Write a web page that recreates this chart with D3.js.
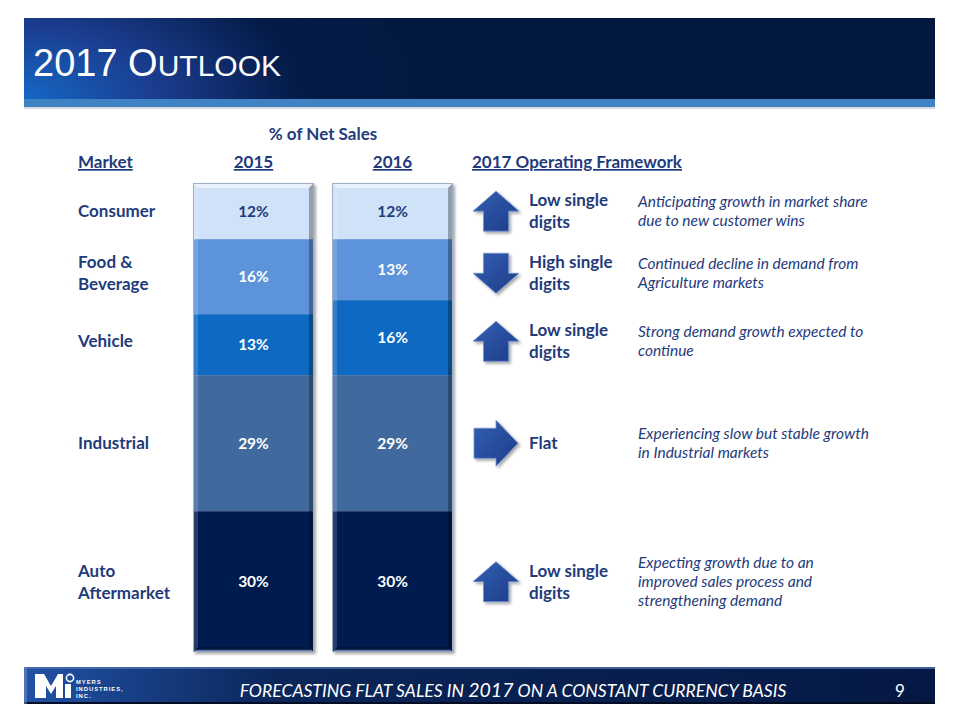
<!DOCTYPE html>
<html>
<head>
<meta charset="utf-8">
<script src="https://cdn.jsdelivr.net/npm/d3@7/dist/d3.min.js"></script>
<style>
  html, body { margin: 0; padding: 0; background: #ffffff; }
  svg { display: block; }
</style>
</head>
<body>
<script>
// ---------------- DATA ----------------
const markets = ["Consumer", "Food &\nBeverage", "Vehicle", "Industrial", "Auto\nAftermarket"];
const years = ["2015", "2016"];
const share2015 = [12, 16, 13, 29, 30];
const share2016 = [12, 13, 16, 29, 30];
const outlookDirection = ["up", "down", "up", "right", "up"];
const outlookLabel = ["Low single\ndigits", "High single\ndigits", "Low single\ndigits", "Flat", "Low single\ndigits"];
const outlookNote = [
  "Anticipating growth in market share\ndue to new customer wins",
  "Continued decline in demand from\nAgriculture markets",
  "Strong demand growth expected to\ncontinue",
  "Experiencing slow but stable growth\nin Industrial markets",
  "Expecting growth due to an\nimproved sales process and\nstrengthening demand"
];
const titleText = ["2017 O", "UTLOOK"];
const footerText = ["FORECASTING FLAT SALES IN ", "2017", " ON A CONSTANT CURRENCY BASIS"];
const logoText = ["MYERS", "INDUSTRIES,", "INC."];
const pageNumber = "9";

// ---------------- SETUP ----------------
const W = 960, H = 720;
const navyText = "#1f3b7b";
const segColors = ["#cfe2f8", "#5b93da", "#0a69c1", "#406a9d", "#061b50"];
const segText = [navyText, "#ffffff", "#ffffff", "#ffffff", "#ffffff"];
const font = "Lato, 'Open Sans', sans-serif";

const svg = d3.select("body").append("svg").attr("width", W).attr("height", H);
const defs = svg.append("defs");

// header gradient
const hg = defs.append("radialGradient").attr("id", "hdrGrad")
  .attr("gradientUnits", "userSpaceOnUse").attr("cx", 20).attr("cy", 100).attr("r", 450)
  .attr("gradientTransform", "translate(20,100) scale(1,0.55) translate(-20,-100)");
hg.append("stop").attr("offset", "0").attr("stop-color", "#1469c7");
hg.append("stop").attr("offset", "0.3").attr("stop-color", "#1b3d8f");
hg.append("stop").attr("offset", "0.62").attr("stop-color", "#041b47");
hg.append("stop").attr("offset", "1").attr("stop-color", "#03183f");

const fg = defs.append("linearGradient").attr("id", "ftrGrad").attr("x1", 0).attr("x2", 1).attr("y1", 0).attr("y2", 0);
fg.append("stop").attr("offset", "0").attr("stop-color", "#2152a6");
fg.append("stop").attr("offset", "0.28").attr("stop-color", "#0b2659");
fg.append("stop").attr("offset", "1").attr("stop-color", "#051843");

const ag = defs.append("linearGradient").attr("id", "arrGrad").attr("x1", 0).attr("x2", 1).attr("y1", 0).attr("y2", 1);
ag.append("stop").attr("offset", "0").attr("stop-color", "#3460b3");
ag.append("stop").attr("offset", "1").attr("stop-color", "#1d3b88");

const sh = defs.append("filter").attr("id", "shadow").attr("x", "-20%").attr("y", "-20%").attr("width", "150%").attr("height", "150%");
sh.append("feDropShadow").attr("dx", 2).attr("dy", 2).attr("stdDeviation", 1.5).attr("flood-color", "#000").attr("flood-opacity", 0.35);

// ---------------- HEADER ----------------
svg.append("rect").attr("x", 24).attr("y", 18).attr("width", 911).attr("height", 81).attr("fill", "url(#hdrGrad)");
svg.append("rect").attr("x", 24).attr("y", 99).attr("width", 911).attr("height", 8).attr("fill", "#3f83c4");
svg.append("rect").attr("x", 24).attr("y", 107).attr("width", 911).attr("height", 2).attr("fill", "#d5dbe3");

const title = svg.append("text").attr("x", 33).attr("y", 76)
  .attr("fill", "#ffffff").attr("font-family", "'Liberation Sans', Arial, sans-serif");
title.append("tspan").attr("font-size", 38).text(titleText[0]);
title.append("tspan").attr("font-size", 30).text(titleText[1]);

// ---------------- COLUMN HEADERS ----------------
const x = d3.scaleBand().domain(years).range([193, 453]).paddingInner(0.13).paddingOuter(0);
const y = d3.scaleLinear().domain([0, 100]).range([652, 183]);

svg.append("text").attr("x", (x("2015") + x("2016") + x.bandwidth()) / 2).attr("y", 140)
  .attr("text-anchor", "middle").attr("font-family", font).attr("font-weight", 700)
  .attr("font-size", 17).attr("fill", navyText).text("% of Net Sales");

const hdrY = 168;
function hdr(tx, ty, s, anchor) {
  svg.append("text").attr("x", tx).attr("y", ty).attr("text-anchor", anchor)
    .attr("font-family", font).attr("font-weight", 700).attr("font-size", 17)
    .attr("fill", navyText).attr("text-decoration", "underline").text(s);
}
hdr(78, hdrY, "Market", "start");
years.forEach(yr => hdr(x(yr) + x.bandwidth() / 2, hdrY, yr, "middle"));
hdr(472, hdrY, "2017 Operating Framework", "start");

// ---------------- STACKED BARS ----------------
const shares = { "2015": share2015, "2016": share2016 };
function stackFor(yr) {
  const vals = shares[yr];
  const out = [];
  let acc = 0;
  for (let i = vals.length - 1; i >= 0; i--) {
    out[i] = { i, v: vals[i], y0: acc, y1: acc + vals[i] };
    acc += vals[i];
  }
  return out;
}
const stacks = years.map(yr => ({ yr, segs: stackFor(yr) }));

const barG = svg.selectAll("g.bar").data(stacks).enter().append("g").attr("class", "bar")
  .attr("filter", "url(#shadow)");

barG.selectAll("rect.seg").data(d => d.segs.map(s => Object.assign({ yr: d.yr }, s))).enter()
  .append("rect").attr("class", "seg")
  .attr("x", d => x(d.yr)).attr("width", x.bandwidth())
  .attr("y", d => y(d.y1)).attr("height", d => y(d.y0) - y(d.y1))
  .attr("fill", d => segColors[d.i]);

// bevel frame
const bv = 5;
stacks.forEach(st => {
  const x0 = x(st.yr), x1 = x0 + x.bandwidth(), y0 = y(100), y1 = y(0);
  const g = svg.append("g");
  const poly = (pts, fill, op) => g.append("polygon").attr("points", pts.map(p => p.join(",")).join(" "))
    .attr("fill", fill).attr("fill-opacity", op);
  poly([[x0, y0], [x1, y0], [x1 - bv, y0 + bv], [x0 + bv, y0 + bv]], "#ffffff", 0.55);
  poly([[x0, y0], [x0 + bv, y0 + bv], [x0 + bv, y1 - bv], [x0, y1]], "#ffffff", 0.15);
  poly([[x1, y0], [x1, y1], [x1 - bv, y1 - bv], [x1 - bv, y0 + bv]], "#000000", 0.3);
  poly([[x0, y1], [x1, y1], [x1 - bv, y1 - bv], [x0 + bv, y1 - bv]], "#000000", 0.25);
  g.append("rect").attr("x", x0 + 0.5).attr("y", y0 + 0.5).attr("width", x.bandwidth() - 1).attr("height", y1 - y0 - 1)
    .attr("fill", "none").attr("stroke", "#9fb0c8").attr("stroke-width", 1);
  g.append("line").attr("x1", x0 + 2).attr("x2", x1 - 2).attr("y1", y1 - 1.5).attr("y2", y1 - 1.5)
    .attr("stroke", "#5d79a6").attr("stroke-width", 1.5);
});

// value labels
stacks.forEach(st => {
  svg.selectAll(null).data(st.segs).enter().append("text")
    .attr("x", x(st.yr) + x.bandwidth() / 2)
    .attr("y", d => y((d.y0 + d.y1) / 2))
    .attr("dy", "0.35em").attr("text-anchor", "middle")
    .attr("font-family", font).attr("font-weight", 700).attr("font-size", 15.5)
    .attr("fill", d => segText[d.i]).text(d => d.v + "%");
});

// ---------------- ROWS ----------------
const rowCenter = markets.map((m, i) => d3.mean(stacks, st => y((st.segs[i].y0 + st.segs[i].y1) / 2)));

function multiline(tx, cy, str, size, weight, style, lh) {
  const lines = str.split("\n");
  const t = svg.append("text").attr("x", tx).attr("font-family", font).attr("font-size", size)
    .attr("font-weight", weight).attr("font-style", style).attr("fill", navyText);
  const top = cy - (lines.length - 1) * lh / 2;
  lines.forEach((l, k) => t.append("tspan").attr("x", tx).attr("y", top + k * lh).attr("dy", "0.35em").text(l));
}

markets.forEach((m, i) => multiline(78, rowCenter[i], m, 17, 700, "normal", 22));
outlookLabel.forEach((m, i) => multiline(529, rowCenter[i], m, 17, 700, "normal", 22));
outlookNote.forEach((m, i) => multiline(638, rowCenter[i], m, 15.5, 400, "italic", 19));

// arrows
const arrowShapes = {
  up:    [[0, -20], [23, 0], [12.5, 0], [12.5, 20], [-12.5, 20], [-12.5, 0], [-23, 0]],
  down:  [[0, 20], [23, 0], [12.5, 0], [12.5, -20], [-12.5, -20], [-12.5, 0], [-23, 0]],
  right: [[22, 0], [0, -23], [0, -15], [-22, -15], [-22, 15], [0, 15], [0, 23]]
};
const arrowX = 496;
svg.selectAll("polygon.arrow").data(outlookDirection).enter().append("polygon").attr("class", "arrow")
  .attr("points", d => arrowShapes[d].map(p => p.join(",")).join(" "))
  .attr("transform", (d, i) => `translate(${arrowX},${rowCenter[i]})`)
  .attr("fill", "url(#arrGrad)").attr("stroke", "#6f8fd0").attr("stroke-width", 0.8)
  .attr("filter", "url(#shadow)");

// ---------------- FOOTER ----------------
svg.append("rect").attr("x", 24).attr("y", 667).attr("width", 911).attr("height", 37)
  .attr("fill", "url(#ftrGrad)");
svg.append("rect").attr("x", 24).attr("y", 667).attr("width", 911).attr("height", 2).attr("fill", "#4d6fae").attr("opacity", 0.8);
svg.append("rect").attr("x", 24).attr("y", 702).attr("width", 911).attr("height", 2).attr("fill", "#020c24");
svg.append("rect").attr("x", 24).attr("y", 667).attr("width", 3).attr("height", 37).attr("fill", "#6a88c0").attr("opacity", 0.6);

// logo
const logo = svg.append("g");
logo.append("path")
  .attr("d", "M35,674 L44,674 L51,686 L58,674 L63,674 L63,698 L56,698 L56,686 L51,694 L46,686 L46,698 L35,698 Z")
  .attr("fill", "#ffffff");
logo.append("rect").attr("x", 65).attr("y", 684).attr("width", 6).attr("height", 14).attr("fill", "#ffffff");
logo.append("circle").attr("cx", 70).attr("cy", 678).attr("r", 3.6).attr("fill", "none").attr("stroke", "#ffffff").attr("stroke-width", 1.6);
logoText.forEach((s, k) => {
  logo.append("text").attr("x", 76).attr("y", 684 + k * 7).attr("font-family", "'Liberation Sans', Arial, sans-serif")
    .attr("font-weight", 700).attr("font-size", 5.8).attr("letter-spacing", 1).attr("fill", "#ffffff").text(s);
});

// footer caption: measure and fit to the target width
const ft = svg.append("text").attr("x", 513).attr("y", 697).attr("text-anchor", "middle")
  .attr("font-family", font).attr("font-style", "italic").attr("fill", "#ffffff");
const baseSizes = [18, 20, 18];
const ftSpans = footerText.map((s, k) => ft.append("tspan").attr("font-size", baseSizes[k]).text(s));
const natural = ft.node().getComputedTextLength();
const kf = 547 / natural;
ftSpans.forEach((sp, j) => sp.attr("font-size", (baseSizes[j] * kf).toFixed(2)));

svg.append("text").attr("x", 900).attr("y", 697).attr("text-anchor", "middle")
  .attr("font-family", font).attr("font-size", 17).attr("fill", "#ffffff").text(pageNumber);
</script>
</body>
</html>
